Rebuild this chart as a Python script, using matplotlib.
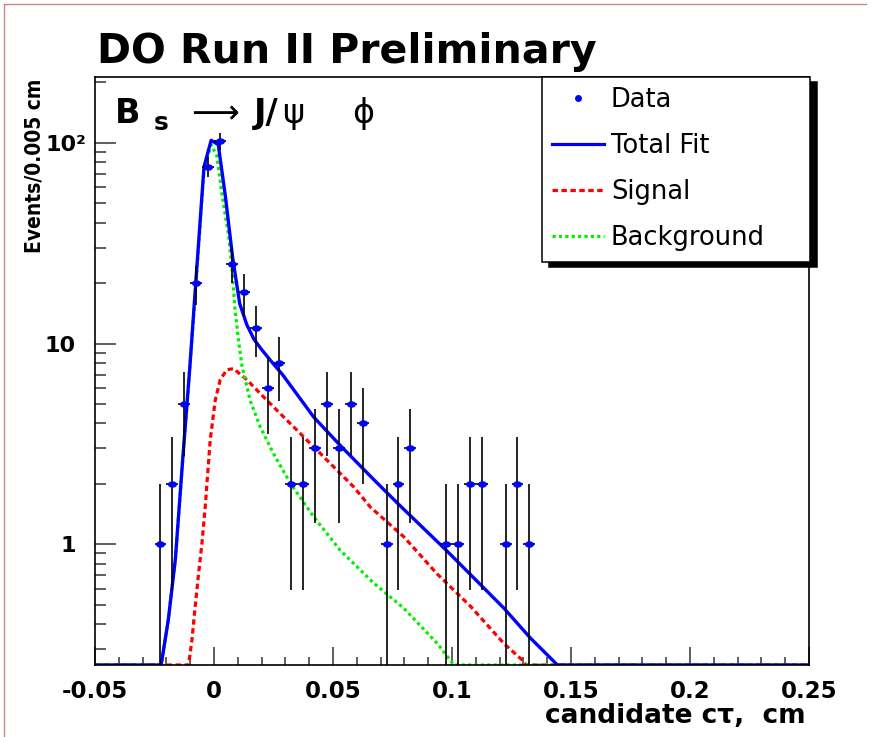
import numpy as np
import matplotlib
matplotlib.use("Agg")
import matplotlib.pyplot as plt
from matplotlib import font_manager as fm
from matplotlib.lines import Line2D
from matplotlib.path import Path
from matplotlib.transforms import Affine2D, ScaledTranslation
from matplotlib.ticker import FixedLocator, MultipleLocator, LogLocator, NullFormatter

# ---------------- data ----------------
bin_centers = [-0.0225, -0.0175, -0.0125, -0.0075, -0.0025, 0.0025, 0.0075, 0.0125,
               0.0175, 0.0225, 0.0275, 0.0325, 0.0375, 0.0425, 0.0475, 0.0525,
               0.0575, 0.0625, 0.0725, 0.0775, 0.0825, 0.0975, 0.1025, 0.1075,
               0.1125, 0.1225, 0.1275, 0.1325]
counts = [1, 2, 5, 20, 76, 102, 25, 18, 12, 6, 8, 2, 2, 3, 5, 3, 5, 4, 1, 2, 3,
          1, 1, 2, 2, 1, 2, 1]
count_err = [1.0, 1.41, 2.24, 4.47, 8.72, 10.1, 5.0, 4.24, 3.46, 2.45, 2.83, 1.41,
             1.41, 1.73, 2.24, 1.73, 2.24, 2.0, 1.0, 1.41, 1.73, 1.0, 1.0, 1.41,
             1.41, 1.0, 1.41, 1.0]
bin_half_width = 0.0025

total_x = [-0.05, -0.0222, -0.0192, -0.0162, -0.0132, -0.0102, -0.0072, -0.0042,
           -0.0012, 0.0018, 0.0048, 0.0078, 0.0108, 0.0138, 0.0168, 0.0198, 0.0228,
           0.0258, 0.0288, 0.0419, 0.0531, 0.0671, 0.0783, 0.0977, 0.1218, 0.1330,
           0.1443, 0.25]
total_y = [0.25, 0.25, 0.42, 0.85, 2.6, 7.5, 24, 76, 103, 98, 54, 27, 15.8, 12.4,
           10.5, 9.4, 8.5, 7.7, 7.0, 4.3, 3.1, 2.1, 1.55, 0.93, 0.48, 0.34, 0.25, 0.25]

signal_x = [-0.05, -0.0107, -0.0093, -0.0079, -0.0065, -0.0051, -0.0037, -0.0016,
            0.0005, 0.0026, 0.0054, 0.0082, 0.0138, 0.0223, 0.0334, 0.0447, 0.0587,
            0.0657, 0.0797, 0.0938, 0.1078, 0.1218, 0.1302, 0.1311, 0.25]
signal_y = [0.25, 0.25, 0.33, 0.49, 0.71, 1.0, 1.53, 3.3, 5.2, 6.6, 7.4, 7.5, 6.6,
            5.2, 3.85, 2.83, 1.93, 1.53, 1.09, 0.71, 0.49, 0.32, 0.26, 0.25, 0.25]

bkg_x = [-0.05, -0.0222, -0.0192, -0.0162, -0.0132, -0.0102, -0.0072, -0.0042,
         -0.0012, 0.0012, 0.0033, 0.0054, 0.0061, 0.0075, 0.0089, 0.0103, 0.0117,
         0.0152, 0.0194, 0.0250, 0.0321, 0.0419, 0.0531, 0.0671, 0.0797, 0.0938,
         0.1008, 0.25]
bkg_y = [0.25, 0.25, 0.42, 0.85, 2.6, 7.4, 23, 74, 98, 86, 56, 39, 35, 24, 14.5,
         10.4, 7.8, 5.2, 3.85, 2.83, 2.01, 1.37, 0.93, 0.64, 0.48, 0.32, 0.25, 0.25]

x_ticks = [-0.05, 0.0, 0.05, 0.1, 0.15, 0.2, 0.25]
x_tick_labels = ["-0.05", "0", "0.05", "0.1", "0.15", "0.2", "0.25"]
y_ticks = [1, 10, 100]
y_tick_labels = ["1", "10", "10\u00b2"]
legend_labels = ["Data", "Total Fit", "Signal", "Background"]

# ---------------- figure ----------------
plt.rcParams['font.family'] = ['DejaVu Sans']
W, H = 873, 737
fig = plt.figure(figsize=(W / 100, H / 100), dpi=100)

def fx(px):
    return px / W

def fy(py):
    return 1 - py / H

ax_l, ax_r, ax_t, ax_b = 95, 809, 77, 665
ax = fig.add_axes([fx(ax_l), fy(ax_b), (ax_r - ax_l) / W, (ax_b - ax_t) / H])
ax.set_yscale('log')
ax.set_xlim(-0.05, 0.25)
ax.set_ylim(0.25, 213)

blue, red, green = '#0000ff', '#ff0000', '#00f000'
sig_ls = (0, (1.7, 1.1))
bkg_ls = (0, (1.0, 1.0))
ax.plot(signal_x, signal_y, color=red, lw=2.3, linestyle=sig_ls,
        zorder=2, dash_capstyle='butt')
ax.plot(bkg_x, bkg_y, color=green, lw=2.3, linestyle=bkg_ls,
        zorder=2.1, dash_capstyle='butt')
ax.plot(total_x, total_y, color=blue, lw=2.4, zorder=2.2)

ell = Path.unit_circle().transformed(Affine2D().scale(1.0, 0.72))
ax.errorbar(bin_centers, counts, yerr=count_err, xerr=bin_half_width, fmt='none',
            ecolor='black', elinewidth=1.2, capsize=0, zorder=3)
ax.plot(bin_centers, counts, linestyle='none', marker=ell, markersize=6.5,
        color=blue, markeredgewidth=0, zorder=4)

# ticks
ax.xaxis.set_major_locator(FixedLocator(x_ticks))
ax.xaxis.set_minor_locator(MultipleLocator(0.01))
ax.set_xticklabels(x_tick_labels, fontsize=16.5, fontweight='bold')
ax.yaxis.set_major_locator(FixedLocator(y_ticks))
ax.yaxis.set_minor_locator(LogLocator(base=10, subs=np.arange(2, 10)))
ax.yaxis.set_minor_formatter(NullFormatter())
ax.set_yticklabels(y_tick_labels, fontsize=16, fontweight='bold')
ax.tick_params(axis='both', which='both', direction='in', top=False, right=False,
               color='#333333', width=1.1)
ax.tick_params(axis='x', which='major', length=12.7, pad=11)
ax.tick_params(axis='x', which='minor', length=6)
ax.tick_params(axis='y', which='major', length=15, pad=14)
ax.tick_params(axis='y', which='minor', length=8)
for s in ax.spines.values():
    s.set_linewidth(1.2)
    s.set_color('black')

# the superscripted label sticks out to the right, as in the reference
top_lab = ax.yaxis.get_major_ticks()[2].label1
top_lab.set_transform(top_lab.get_transform()
                      + ScaledTranslation(0.11, 0, fig.dpi_scale_trans))

# axis titles
ax.set_xlabel("candidate c\u03c4,  cm", fontsize=19, fontweight='bold', loc='right')
ax.xaxis.set_label_coords((806 - ax_l) / (ax_r - ax_l), (ax_b - 703) / (ax_b - ax_t))

names = {f.name for f in fm.fontManager.ttflist}
if 'Liberation Sans Narrow' in names:
    ylab_font = dict(family=['Liberation Sans Narrow', 'DejaVu Sans'], fontsize=19)
else:
    ylab_font = dict(family=['DejaVu Sans'], fontstretch='condensed', fontsize=15)
ax.set_ylabel("Events/0.005 cm", fontweight='bold', loc='top', **ylab_font)
ax.yaxis.set_label_coords((45 - ax_l) / (ax_r - ax_l), (ax_b - 79) / (ax_b - ax_t))

# title and decay label
fig.text(fx(97), fy(63), "DO Run II Preliminary", fontsize=29.5, fontweight='bold',
         ha='left', va='baseline')
fig.text(fx(115), fy(123), "B", fontsize=24, fontweight='bold', ha='left', va='baseline')
fig.text(fx(154), fy(130), "s", fontsize=18, fontweight='bold', ha='left', va='baseline')
fig.text(fx(191), fy(123), "\u27f6", fontsize=24, ha='left', va='baseline')
fig.text(fx(254), fy(123), "J/", fontsize=24, fontweight='bold', ha='left', va='baseline')
fig.text(fx(282), fy(123), "\u03c8", fontsize=24, ha='left', va='baseline')
fig.text(fx(352), fy(123), "\u03d5", fontsize=24, ha='left', va='baseline')

# legend
h_data = Line2D([], [], linestyle='none', marker='o', markersize=4, color=blue)
h_tot = Line2D([], [], color=blue, lw=2.3)
h_sig = Line2D([], [], color=red, lw=2.3, linestyle=sig_ls, dash_capstyle='butt')
h_bkg = Line2D([], [], color=green, lw=2.3, linestyle=bkg_ls, dash_capstyle='butt')
leg = ax.legend([h_data, h_tot, h_sig, h_bkg], legend_labels,
                loc='upper left',
                bbox_to_anchor=(fx(542), fy(77) - 0.01, (810 - 542) / W, 0.01),
                bbox_transform=fig.transFigure, mode='expand', borderaxespad=0,
                prop=dict(size=18.5), handlelength=2.0, handletextpad=0.28,
                labelspacing=0.78, borderpad=0.4, fancybox=False,
                shadow=dict(ox=5.2, oy=-3.6, color='black', alpha=1))
leg.get_frame().set_edgecolor('black')
leg.get_frame().set_linewidth(1.1)
leg.get_frame().set_alpha(1)

# canvas border
fig.add_artist(Line2D([fx(4), fx(4)], [0, fy(4)], transform=fig.transFigure,
                      color='#c98585', lw=1))
fig.add_artist(Line2D([fx(4), fx(866)], [fy(4), fy(4)], transform=fig.transFigure,
                      color='#c98585', lw=1))

fig.savefig("out.png", dpi=100)
